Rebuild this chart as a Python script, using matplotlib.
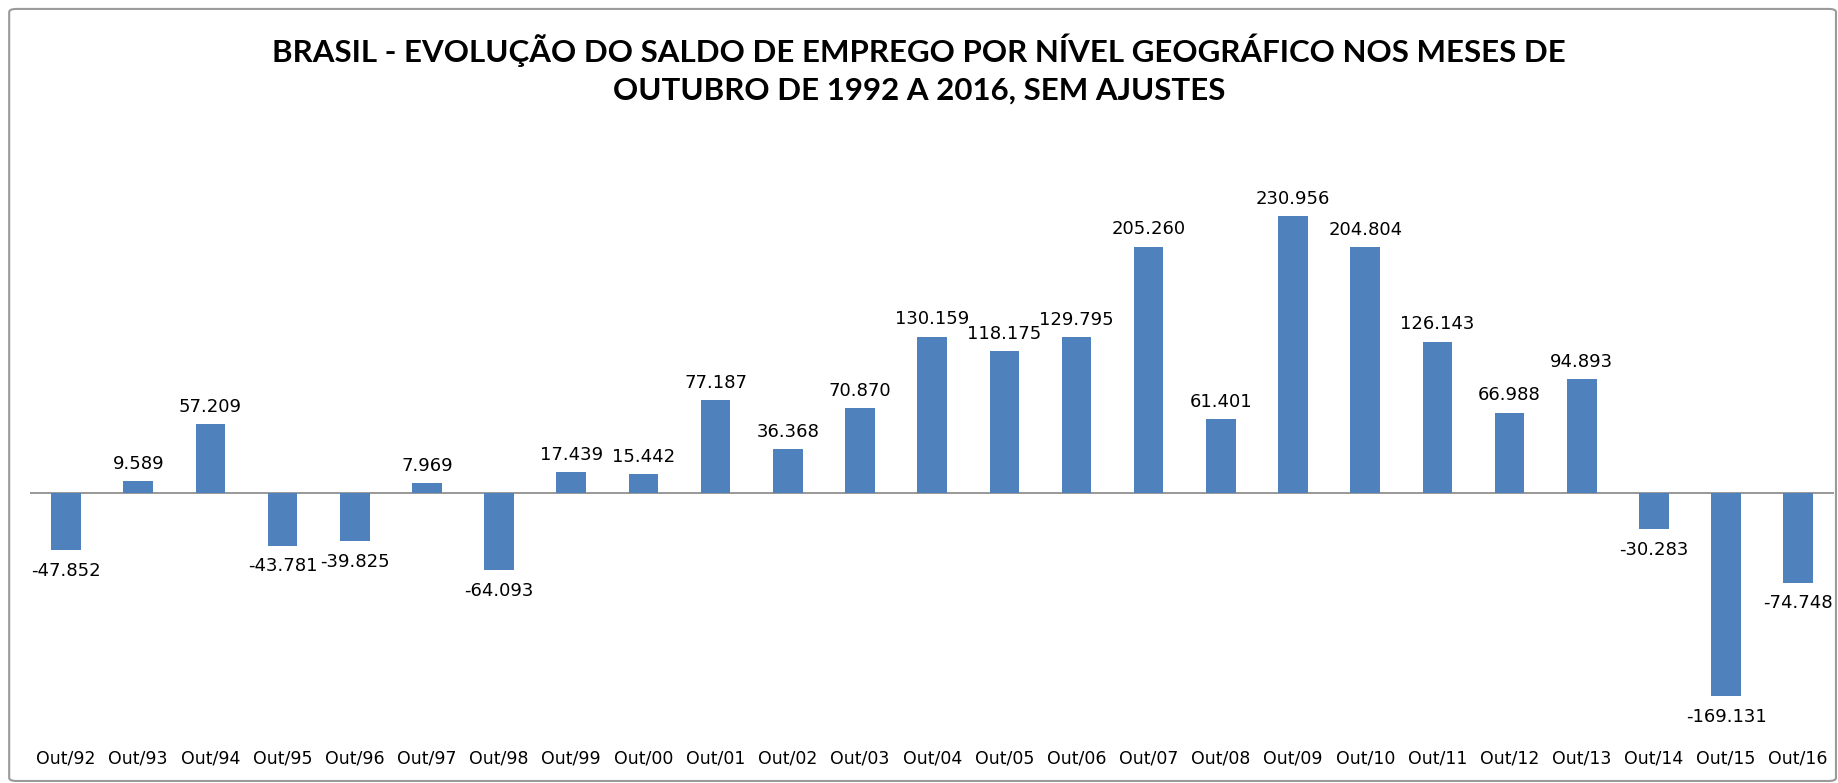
import matplotlib.pyplot as plt
from matplotlib.patches import FancyBboxPatch

# --- Dados: saldo de emprego em outubro, 1992 a 2016 ---
meses = ["Out/92", "Out/93", "Out/94", "Out/95", "Out/96", "Out/97", "Out/98",
         "Out/99", "Out/00", "Out/01", "Out/02", "Out/03", "Out/04", "Out/05",
         "Out/06", "Out/07", "Out/08", "Out/09", "Out/10", "Out/11", "Out/12",
         "Out/13", "Out/14", "Out/15", "Out/16"]
saldo = [-47852, 9589, 57209, -43781, -39825, 7969, -64093, 17439, 15442,
         77187, 36368, 70870, 130159, 118175, 129795, 205260, 61401, 230956,
         204804, 126143, 66988, 94893, -30283, -169131, -74748]

titulo = ("BRASIL - EVOLUÇÃO DO SALDO DE EMPREGO POR NÍVEL GEOGRÁFICO NOS MESES DE\n"
          "OUTUBRO DE 1992 A 2016, SEM AJUSTES")

cor_barra = "#4F81BD"


def fmt_br(v):
    # separador de milhar com ponto
    return f"{v:,}".replace(",", ".")


fig = plt.figure(figsize=(18.38, 7.83), dpi=100)
ax = fig.add_axes([0.0163, 0.0639, 0.9817, 0.6896])

x = list(range(len(meses)))
bars = ax.bar(x, saldo, width=0.41, color=cor_barra, zorder=2)

# rótulos: acima das barras positivas, abaixo das negativas
for b, v in zip(bars, saldo):
    ax.annotate(fmt_br(v), (b.get_x() + b.get_width() / 2, v),
                xytext=(0, 6 if v >= 0 else -8.5), textcoords="offset points",
                ha="center", va="bottom" if v >= 0 else "top", fontsize=13)

ax.axhline(0, color="#868686", lw=1.2, zorder=1)
ax.set_xlim(-0.5, len(meses) - 0.5)
ax.set_ylim(-200000, 250000)
ax.set_xticks(x)
ax.set_xticklabels(meses, fontsize=12.5)
ax.tick_params(axis="x", length=0, pad=12)
ax.set_yticks([])
for s in ax.spines.values():
    s.set_visible(False)

fig.text(0.5, 0.912, titulo, ha="center", va="center", fontsize=22.5,
         fontweight="bold", family="Lato", linespacing=1.4)

# --- moldura do gráfico ---
moldura = FancyBboxPatch((0.005, 0.0026), 0.9939, 0.986,
                         boxstyle="round,pad=0,rounding_size=0.004",
                         transform=fig.transFigure, fill=False,
                         edgecolor="#9A9A9A", lw=1.5)
fig.patches.append(moldura)

fig.savefig("out.png", dpi=100)
